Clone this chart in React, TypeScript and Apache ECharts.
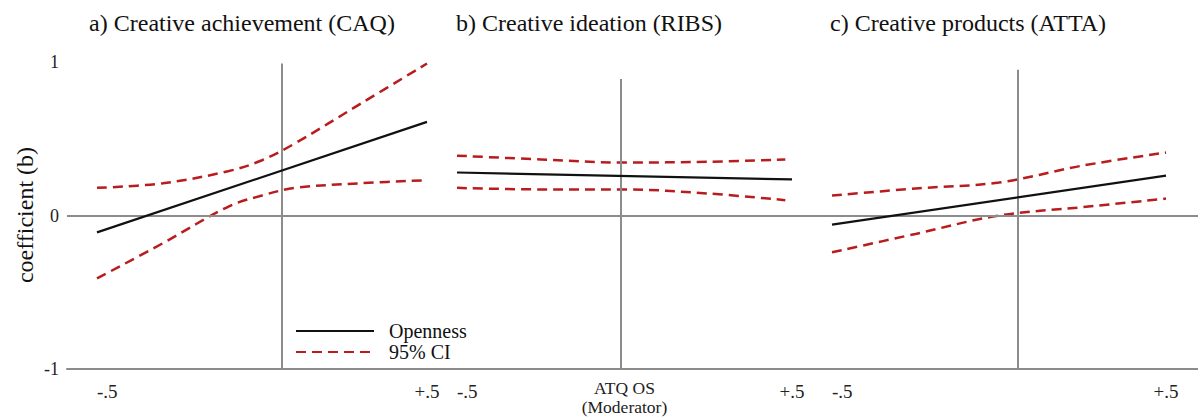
import React, { useEffect, useRef } from "react";
import * as echarts from "echarts";

// ---- data ----
const panelTitles = [
  "a) Creative achievement (CAQ)",
  "b) Creative ideation (RIBS)",
  "c) Creative products (ATTA)",
];
const xTickValues = [-0.5, 0.5];
const xTickLabels = ["-.5", "+.5"];
const yTickValues = [-1, 0, 1];
const yTickLabels = ["-1", "0", "1"];
const moderatorName = "ATQ OS\n(Moderator)";
const yName = "coefficient (b)";

// panel a
const opennessXA = [-0.5, 0.5];
const opennessA = [-0.11, 0.61];
const ciXA = [-0.5, -0.3, -0.1, 0, 0.1, 0.3, 0.5];
const upperA = [0.18, 0.21, 0.29, 0.36, 0.47, 0.73, 0.99];
const lowerA = [-0.41, -0.18, 0.06, 0.13, 0.18, 0.21, 0.23];

// panel b
const opennessXB = [-0.5, 0.5];
const opennessB = [0.28, 0.235];
const ciXB = [-0.5, -0.25, 0, 0.25, 0.48];
const upperB = [0.39, 0.365, 0.345, 0.35, 0.365];
const lowerB = [0.18, 0.17, 0.17, 0.143, 0.1];

// panel c
const opennessXC = [-0.5, 0.5];
const opennessC = [-0.06, 0.26];
const ciXC = [-0.5, -0.25, 0, 0.25, 0.5];
const upperC = [0.13, 0.176, 0.215, 0.325, 0.41];
const lowerC = [-0.24, -0.12, 0, 0.054, 0.11];

// moderator reference line per panel: x position and top value
const refX = [0.06, -0.01, 0.057];
const refTop = [0.99, 0.89, 0.95];

const FONT = "Liberation Serif";
const GRAY = "#8c8c8c";
const RED = "#b81c1c";
const BLACK = "#111111";

const zip = (xs: number[], ys: number[]) => xs.map((x, i) => [x, ys[i]]);

export default function App() {
  const ref = useRef<HTMLDivElement>(null);

  useEffect(() => {
    if (!ref.current) return;
    const chart = echarts.init(ref.current, null, { renderer: "svg" });

    const panels = [
      { ox: opennessXA, o: opennessA, cx: ciXA, up: upperA, lo: lowerA },
      { ox: opennessXB, o: opennessB, cx: ciXB, up: upperB, lo: lowerB },
      { ox: opennessXC, o: opennessC, cx: ciXC, up: upperC, lo: lowerC },
    ];
    const gridLefts = [97, 457, 832];
    const gridWidths = [330, 335, 334];
    const titleCenters = [242, 589, 968];
    const gridTop = 62;
    const gridHeight = 307;

    const grid: any[] = [
      { left: 67, top: gridTop, width: 1131, height: gridHeight, outerBoundsMode: "none", containLabel: false },
      ...gridLefts.map((l, i) => ({
        left: l,
        top: gridTop,
        width: gridWidths[i],
        height: gridHeight,
        outerBoundsMode: "none",
        containLabel: false,
      })),
    ];

    const xAxis: any[] = [
      {
        gridIndex: 0,
        type: "value",
        min: 0,
        max: 1,
        axisLine: { show: true, onZero: false, lineStyle: { color: GRAY, width: 2 } },
        axisTick: { show: false },
        axisLabel: { show: false },
        splitLine: { show: false },
      },
      ...panels.map((_, i) => ({
        gridIndex: i + 1,
        type: "value",
        position: "bottom",
        min: -0.5,
        max: 0.5,
        interval: 0.5,
        axisLine: { show: false, onZero: false },
        axisTick: { show: false },
        splitLine: { show: false },
        axisLabel: {
          margin: 13,
          fontSize: 19,
          fontFamily: FONT,
          color: "#222",
          alignMinLabel: "left",
          formatter: (v: number) => {
            const k = xTickValues.findIndex((t) => Math.abs(t - v) < 1e-9);
            return k >= 0 ? xTickLabels[k] : "";
          },
        },
        name: i === 1 ? moderatorName : "",
        nameLocation: "middle",
        nameGap: 9,
        nameMoveOverlap: false,
        nameTextStyle: { fontSize: 17.5, fontFamily: FONT, color: "#222", lineHeight: 19 },
      })),
    ];

    const yAxis: any[] = [
      {
        gridIndex: 0,
        type: "value",
        min: -1,
        max: 1,
        interval: 1,
        axisLine: { show: false },
        axisTick: { show: false },
        splitLine: { show: false },
        axisLabel: {
          margin: 8,
          fontSize: 18,
          fontFamily: FONT,
          color: "#222",
          formatter: (v: number) => {
            const k = yTickValues.findIndex((t) => Math.abs(t - v) < 1e-9);
            return k >= 0 ? yTickLabels[k] : "";
          },
        },
      },
      ...panels.map((_, i) => ({
        gridIndex: i + 1,
        type: "value",
        min: -1,
        max: 1,
        show: false,
      })),
    ];

    const series: any[] = [
      {
        type: "line",
        xAxisIndex: 0,
        yAxisIndex: 0,
        data: [],
        silent: true,
        markLine: {
          silent: true,
          symbol: "none",
          label: { show: false },
          lineStyle: { color: GRAY, width: 2, type: "solid" },
          data: [{ yAxis: 0 }],
        },
      },
    ];

    panels.forEach((p, i) => {
      series.push({
        name: "Openness",
        type: "line",
        xAxisIndex: i + 1,
        yAxisIndex: i + 1,
        data: zip(p.ox, p.o),
        symbol: "none",
        z: 5,
        lineStyle: { color: BLACK, width: 2.2 },
        itemStyle: { color: BLACK },
        markLine: {
          silent: true,
          symbol: "none",
          label: { show: false },
          lineStyle: { color: GRAY, width: 2, type: "solid" },
          data: [[{ coord: [refX[i], refTop[i]] }, { coord: [refX[i], -1] }]],
        },
      });
      [p.up, p.lo].forEach((arr) => {
        series.push({
          name: "95% CI",
          type: "line",
          xAxisIndex: i + 1,
          yAxisIndex: i + 1,
          data: zip(p.cx, arr),
          symbol: "none",
          smooth: 0.35,
          z: 4,
          lineStyle: { color: RED, width: 2.5, type: [10, 6] },
          itemStyle: { color: RED },
        });
      });
    });

    const option: any = {
      animation: false,
      backgroundColor: "#ffffff",
      title: panelTitles.map((t, i) => ({
        text: t,
        left: titleCenters[i],
        top: 11,
        textAlign: "center",
        padding: 0,
        textStyle: { fontSize: 24, fontWeight: "normal", fontFamily: FONT, color: BLACK },
      })),
      legend: {
        data: ["Openness", "95% CI"],
        orient: "vertical",
        left: 295,
        top: 321,
        itemWidth: 78,
        itemHeight: 14,
        itemGap: 1,
        padding: 0,
        itemStyle: { opacity: 0 },
        textStyle: { fontSize: 20, lineHeight: 20, fontFamily: FONT, color: BLACK, padding: [0, 0, 0, 10] },
      },
      grid,
      xAxis,
      yAxis,
      series,
      graphic: [
        {
          type: "text",
          x: 25,
          y: 215,
          rotation: Math.PI / 2,
          style: {
            text: yName,
            fontSize: 24,
            fontFamily: FONT,
            fill: BLACK,
            align: "center",
            verticalAlign: "middle",
          },
        },
      ],
    };

    chart.setOption(option);
    return () => chart.dispose();
  }, []);

  return (
    <div
      ref={ref}
      style={{ position: "fixed", left: 0, top: 0, width: 1198, height: 418, background: "#fff" }}
    />
  );
}
